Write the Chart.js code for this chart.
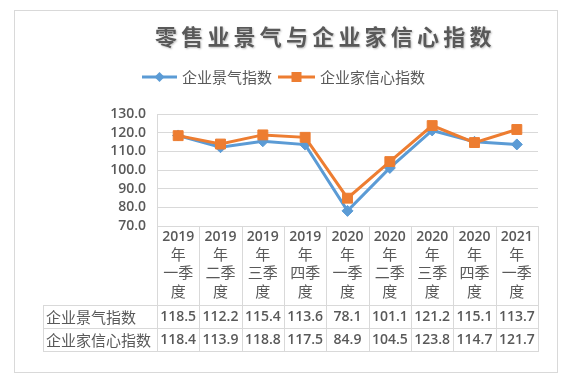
<!DOCTYPE html>
<html>
<head>
<meta charset="utf-8">
<script src="https://cdn.jsdelivr.net/npm/chart.js@4/dist/chart.umd.min.js"></script>
<style>
html,body{margin:0;padding:0;background:#fff;}
#wrap{width:571px;height:380px;position:relative;}
</style>
</head>
<body>
<div id="wrap"><canvas id="c" width="571" height="380"></canvas></div>
<script>
const chartTitle = '零售业景气与企业家信心指数';
const categories = [
  ['2019','年','一季','度'],
  ['2019','年','二季','度'],
  ['2019','年','三季','度'],
  ['2019','年','四季','度'],
  ['2020','年','一季','度'],
  ['2020','年','二季','度'],
  ['2020','年','三季','度'],
  ['2020','年','四季','度'],
  ['2021','年','一季','度']
];
const seriesNames = ['企业景气指数', '企业家信心指数'];
const businessIndex = [118.5, 112.2, 115.4, 113.6, 78.1, 101.1, 121.2, 115.1, 113.7];
const confidenceIndex = [118.4, 113.9, 118.8, 117.5, 84.9, 104.5, 123.8, 114.7, 121.7];
const yTicks = [70, 80, 90, 100, 110, 120, 130];

const BLUE = '#5B9BD5', ORANGE = '#ED7D31', GRID = '#D9D9D9', TXT = '#595959';
const NUMFONT = '"Open Sans", "Noto Sans CJK SC", sans-serif';
const CJK = '"Noto Sans CJK SC", sans-serif';

const decor = {
  id: 'decor',
  beforeDraw(chart) {
    const ctx = chart.ctx;
    ctx.save();
    ctx.fillStyle = '#fff';
    ctx.fillRect(0, 0, chart.width, chart.height);
    ctx.strokeStyle = GRID;
    ctx.lineWidth = 1;
    ctx.strokeRect(14.5, 10.5, 543, 362);
    // title
    ctx.font = 'bold 22px ' + CJK;
    ctx.fillStyle = TXT;
    ctx.textAlign = 'center';
    ctx.textBaseline = 'middle';
    ctx.shadowColor = 'rgba(0,0,0,0.25)';
    ctx.shadowOffsetX = 1; ctx.shadowOffsetY = 1; ctx.shadowBlur = 2;
    const chars = Array.from(chartTitle);
    const pitch = 26.2;
    const start = 166;
    chars.forEach((ch, i) => ctx.fillText(ch, start + pitch * i, 37));
    ctx.restore();

    // legend
    ctx.save();
    const ly = 77;
    ctx.strokeStyle = BLUE; ctx.lineWidth = 3;
    ctx.beginPath(); ctx.moveTo(142, ly); ctx.lineTo(177, ly); ctx.stroke();
    ctx.fillStyle = BLUE;
    ctx.beginPath(); ctx.moveTo(159.5, ly - 5); ctx.lineTo(164.5, ly); ctx.lineTo(159.5, ly + 5); ctx.lineTo(154.5, ly); ctx.closePath(); ctx.fill();
    ctx.strokeStyle = ORANGE;
    ctx.beginPath(); ctx.moveTo(278, ly); ctx.lineTo(315, ly); ctx.stroke();
    ctx.fillStyle = ORANGE;
    ctx.fillRect(291.5, ly - 5, 10, 10);
    ctx.font = '15px ' + CJK;
    ctx.fillStyle = TXT;
    ctx.textAlign = 'left'; ctx.textBaseline = 'middle';
    ctx.fillText(seriesNames[0], 182, ly);
    ctx.fillText(seriesNames[1], 320, ly);
    ctx.restore();
  },
  afterDraw(chart) {
    const ctx = chart.ctx;
    const xs = chart.scales.x;
    const n = categories.length;
    const colW = (xs.right - xs.left) / n;
    const top = chart.chartArea.bottom;
    const hdrBottom = xs.bottom;
    const rowH = 23;
    const tableLeft = 43;
    ctx.save();
    ctx.strokeStyle = GRID;
    ctx.lineWidth = 1;
    ctx.beginPath();
    for (let i = 0; i <= n; i++) {
      const x = Math.round(xs.left + colW * i) + 0.5;
      ctx.moveTo(x, top);
      ctx.lineTo(x, hdrBottom + rowH * 2);
    }
    ctx.moveTo(tableLeft + 0.5, hdrBottom);
    ctx.lineTo(tableLeft + 0.5, hdrBottom + rowH * 2);
    for (let r = 0; r <= 2; r++) {
      const y = hdrBottom + rowH * r + 0.5;
      ctx.moveTo(tableLeft, y);
      ctx.lineTo(Math.round(xs.right) + 1, y);
    }
    ctx.stroke();

    // category header labels (multi-line), positioned by the category scale
    ctx.fillStyle = TXT;
    ctx.textAlign = 'center';
    ctx.textBaseline = 'middle';
    const lineYs = [237, 254, 272, 291];
    categories.forEach((lines, i) => {
      const cx = xs.getPixelForValue(i);
      lines.forEach((t, k) => {
        ctx.font = (k === 0 ? '600 14px ' + NUMFONT : '15px ' + CJK);
        ctx.fillText(t, cx, lineYs[k]);
      });
    });

    const rows = [businessIndex, confidenceIndex];
    rows.forEach((vals, r) => {
      const cy = hdrBottom + rowH * r + rowH / 2 + 0.5;
      ctx.font = '15px ' + CJK;
      ctx.textAlign = 'left';
      ctx.fillText(seriesNames[r], 46, cy);
      ctx.font = '600 14px ' + NUMFONT;
      ctx.textAlign = 'center';
      vals.forEach((v, i) => {
        ctx.fillText(v.toFixed(1), xs.getPixelForValue(i), cy);
      });
    });
    ctx.restore();
  }
};

new Chart(document.getElementById('c'), {
  type: 'line',
  data: {
    labels: categories,
    datasets: [
      {
        label: seriesNames[0],
        data: businessIndex,
        borderColor: BLUE,
        backgroundColor: BLUE,
        borderWidth: 3,
        pointStyle: 'rectRot',
        pointRadius: 5.5,
        pointBorderWidth: 1,
        pointBackgroundColor: BLUE,
        pointBorderColor: BLUE,
        tension: 0,
        order: 1
      },
      {
        label: seriesNames[1],
        data: confidenceIndex,
        borderColor: ORANGE,
        backgroundColor: ORANGE,
        borderWidth: 3,
        pointStyle: 'rect',
        pointRadius: 7,
        pointBorderWidth: 1,
        pointBackgroundColor: ORANGE,
        pointBorderColor: ORANGE,
        tension: 0,
        order: 0
      }
    ]
  },
  options: {
    responsive: false,
    animation: false,
    devicePixelRatio: 1,
    layout: { padding: { left: 43, right: 33, top: 114, bottom: 75 } },
    plugins: {
      legend: { display: false },
      title: { display: false },
      tooltip: { enabled: false }
    },
    scales: {
      x: {
        type: 'category',
        offset: true,
        grid: { display: false, drawTicks: false },
        border: { display: false },
        ticks: { display: false },
        afterFit(s) { s.height = 79; }
      },
      y: {
        min: 70,
        max: 130,
        afterBuildTicks(s) { s.ticks = yTicks.map(v => ({ value: v })); },
        grid: { color: GRID, drawTicks: false, lineWidth: 1 },
        border: { display: true, color: GRID },
        ticks: {
          autoSkip: false,
          padding: 11,
          color: TXT,
          font: { family: NUMFONT, size: 14, weight: '600' },
          callback: v => Number(v).toFixed(1)
        },
        afterFit(s) { s.width = 114; }
      }
    }
  },
  plugins: [decor]
});
</script>
</body>
</html>
